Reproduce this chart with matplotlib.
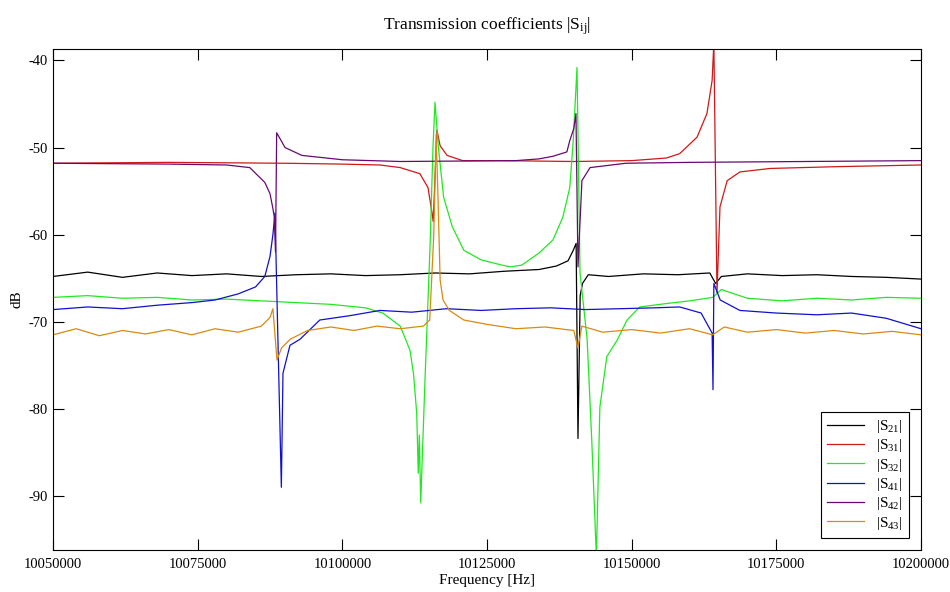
import matplotlib
matplotlib.use('Agg')
import matplotlib.pyplot as plt

plt.rcParams['font.family'] = ['Liberation Serif', 'DejaVu Serif']
plt.rcParams['mathtext.fontset'] = 'custom'
plt.rcParams['mathtext.rm'] = 'Liberation Serif'
plt.rcParams['mathtext.it'] = 'Liberation Serif:italic'
plt.rcParams['axes.unicode_minus'] = False

# values (frequency in Hz, level in dB)
f_s21 = [10050000, 10056000, 10062000, 10068000, 10074000, 10080000, 10086000, 10092000,
         10098000, 10104000, 10110000, 10116000, 10122000, 10128000, 10134000, 10137000,
         10139000, 10139900, 10140400, 10140720, 10141100, 10141500, 10142500, 10146000,
         10152000, 10158000, 10163500, 10164500, 10165500, 10170000, 10176000, 10182000,
         10188000, 10194000, 10200000]
s21 = [-64.8, -64.3, -64.9, -64.4, -64.7, -64.5, -64.8, -64.6,
       -64.5, -64.7, -64.6, -64.4, -64.5, -64.2, -64.0, -63.6,
       -63.0, -61.8, -61.0, -83.4, -67.0, -65.6, -64.6, -64.8,
       -64.5, -64.6, -64.4, -65.6, -64.8, -64.5, -64.7, -64.6,
       -64.8, -64.9, -65.1]

f_s31 = [10050000, 10070000, 10090000, 10100000, 10106500, 10110000, 10113400, 10114800,
         10115500, 10115700, 10116350, 10116900, 10118100, 10120800, 10127000, 10140000,
         10150000, 10156000, 10158300, 10161300, 10163000, 10163900, 10164200, 10164740,
         10165260, 10166500, 10168700, 10173900, 10185000, 10200000]
s31 = [-51.8, -51.7, -51.8, -51.9, -52.0, -52.3, -53.0, -54.6,
       -57.5, -58.5, -48.0, -49.8, -50.9, -51.5, -51.5, -51.6,
       -51.5, -51.2, -50.7, -48.8, -46.1, -42.3, -38.0, -66.7,
       -56.8, -53.8, -52.8, -52.4, -52.2, -52.0]

f_s32 = [10050000, 10056000, 10062000, 10068000, 10074000, 10080000, 10086000, 10092000,
         10098000, 10104000, 10107000, 10110000, 10110800, 10111700, 10112300, 10112850,
         10113120, 10113300, 10113540, 10114280, 10115150, 10115660, 10116010, 10116600,
         10117500, 10119000, 10121000, 10124000, 10127000, 10129000, 10131000, 10134000,
         10136400, 10138100, 10139300, 10139900, 10140550, 10141070, 10142300, 10143100,
         10143650, 10143900, 10144500, 10145700, 10147500, 10149200, 10151400, 10156100,
         10160000, 10164000, 10165500, 10170000, 10176000, 10182000, 10188000, 10194000,
         10200000]
s32 = [-67.2, -67.0, -67.3, -67.2, -67.5, -67.4, -67.6, -67.8,
       -68.0, -68.4, -69.0, -70.5, -71.8, -73.3, -76.0, -80.5,
       -87.4, -83.0, -90.8, -76.7, -61.4, -50.0, -44.8, -50.0,
       -55.7, -59.1, -61.8, -62.9, -63.4, -63.7, -63.5, -62.1,
       -60.6, -58.0, -54.6, -49.2, -40.8, -64.4, -72.0, -83.6,
       -92.8, -97.0, -79.8, -74.0, -72.1, -69.8, -68.3, -67.9,
       -67.6, -67.2, -66.3, -67.3, -67.6, -67.3, -67.5, -67.2,
       -67.3]

f_s41 = [10050000, 10056000, 10062000, 10068000, 10074000, 10078000, 10082000, 10085000,
         10086600, 10087500, 10088000, 10088360, 10089460, 10089740, 10090950, 10092700,
         10096100, 10101300, 10106500, 10112000, 10118000, 10124000, 10130000, 10136000,
         10142000, 10148000, 10154000, 10158300, 10162000, 10163900, 10164050, 10164200,
         10165300, 10168700, 10175000, 10182000, 10188000, 10194000, 10200000]
s41 = [-68.6, -68.3, -68.5, -68.1, -67.8, -67.5, -66.8, -66.0,
       -64.8, -62.5, -60.0, -57.5, -89.0, -75.9, -72.7, -72.0,
       -69.8, -69.3, -68.7, -68.9, -68.5, -68.7, -68.5, -68.4,
       -68.6, -68.5, -68.4, -68.3, -69.0, -71.3, -77.8, -65.6,
       -67.5, -68.7, -69.0, -69.2, -69.0, -69.6, -70.8]

f_s42 = [10050000, 10070000, 10080000, 10084000, 10086600, 10087500, 10088000, 10088240,
         10088450, 10088650, 10090100, 10093000, 10100000, 10110000, 10130000, 10134000,
         10136400, 10138800, 10139300, 10140000, 10140370, 10140720, 10141400, 10142800,
         10149000, 10160000, 10180000, 10200000]
s42 = [-51.8, -51.9, -52.0, -52.3, -54.0, -55.3, -57.0, -58.0,
       -62.0, -48.3, -50.0, -50.9, -51.4, -51.6, -51.5, -51.3,
       -51.0, -50.5, -49.2, -47.8, -46.1, -63.7, -53.8, -52.3,
       -51.8, -51.7, -51.6, -51.5]

f_s43 = [10050000, 10054000, 10058000, 10062000, 10066000, 10070000, 10074000, 10078000,
         10082000, 10086000, 10087500, 10088000, 10088700, 10089500, 10091000, 10094000,
         10098000, 10102000, 10106000, 10110000, 10114000, 10115100, 10115800, 10116200,
         10116500, 10116900, 10117400, 10118500, 10121000, 10125000, 10130000, 10135000,
         10140000, 10140700, 10141400, 10145000, 10150000, 10155000, 10160000, 10164000,
         10166000, 10170000, 10175000, 10180000, 10185000, 10190000, 10195000, 10200000]
s43 = [-71.5, -70.8, -71.6, -71.0, -71.4, -70.9, -71.5, -70.8,
       -71.2, -70.5, -69.5, -68.5, -74.4, -73.0, -72.0, -71.0,
       -70.6, -71.0, -70.5, -70.8, -70.5, -69.8, -60.0, -48.5,
       -55.0, -65.2, -67.5, -68.7, -69.8, -70.3, -70.8, -70.6,
       -71.0, -73.0, -70.5, -71.2, -70.9, -71.3, -70.8, -71.5,
       -70.6, -71.2, -70.9, -71.3, -71.0, -71.4, -71.1, -71.5]

labels = ['|S$_{\\mathrm{21}}$|', '|S$_{\\mathrm{31}}$|', '|S$_{\\mathrm{32}}$|',
          '|S$_{\\mathrm{41}}$|', '|S$_{\\mathrm{42}}$|', '|S$_{\\mathrm{43}}$|']
colors = ['#000000', '#d01818', '#22e822', '#1010d0', '#660a70', '#d98a10']
xticks = [10050000, 10075000, 10100000, 10125000, 10150000, 10175000, 10200000]
yticks = [-90, -80, -70, -60, -50, -40]

fig = plt.figure(figsize=(9.5, 5.92), dpi=100)
ax = fig.add_axes([0.0558, 0.071, 0.9137, 0.846])

series = [(f_s21, s21), (f_s31, s31), (f_s32, s32), (f_s41, s41), (f_s42, s42), (f_s43, s43)]
for (fx, fy), c, lab in zip(series, colors, labels):
    ax.plot(fx, fy, color=c, lw=0.9, label=lab)

ax.set_xlim(10050000, 10200000)
ax.set_ylim(-96.2, -38.7)
ax.set_xticks(xticks)
ax.set_xticklabels([str(v) for v in xticks])
ax.set_yticks(yticks)
ax.tick_params(direction='in', length=8, width=0.8, top=True, right=True, labelsize=10.5)
ax.tick_params(axis='x', pad=6)
for sp in ax.spines.values():
    sp.set_linewidth(0.8)

ax.set_xlabel('Frequency [Hz]', fontsize=11, labelpad=2)
ax.set_ylabel('dB', fontsize=11, labelpad=4)
ax.set_title('Transmission coefficients |S$_{\\mathrm{ij}}$|', fontsize=12.5, pad=14)

leg = ax.legend(loc='lower right', fontsize=11, frameon=True, fancybox=False,
                edgecolor='black', framealpha=1, handlelength=2.4,
                labelspacing=0.15, borderaxespad=0.8, borderpad=0.4)
leg.get_frame().set_linewidth(0.8)

fig.savefig('out.png', dpi=100)
